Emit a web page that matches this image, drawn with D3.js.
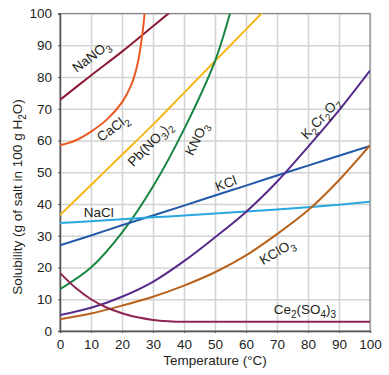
<!DOCTYPE html>
<html>
<head>
<meta charset="utf-8">
<script src="https://cdn.jsdelivr.net/npm/d3@7"></script>
<style>
  body { margin: 0; background: #fff; }
  text { font-family: "Liberation Sans", Arial, sans-serif; fill: #231f20; }
</style>
</head>
<body>
<div id="chart"></div>
<script>
// temperatures shared by most curves
const temps = [0, 10, 20, 30, 40, 50, 60, 70, 80, 90, 100];
const xTicks = [0, 10, 20, 30, 40, 50, 60, 70, 80, 90, 100];
const yTicks = [0, 10, 20, 30, 40, 50, 60, 70, 80, 90, 100];

// steep curves run off the top, so they get their own temps
const nano3Temps = [0, 10, 20, 30, 40];
const nano3 = [72.8, 80.5, 88, 96, 104];
const cacl2Temps = [0, 5, 10, 15, 20, 23, 25, 26.5, 27.3, 28];
const cacl2 = [58.5, 60, 62.8, 66.5, 72, 77.5, 84, 93, 100, 107];
const pbTemps = [0, 10, 20, 30, 40, 50, 60, 70];
const pbno32 = [36.5, 46, 55.5, 65, 75, 85, 95, 105];
const kno3Temps = [0, 10, 20, 30, 40, 50, 55, 57];
const kno3 = [13.2, 20, 31, 45.5, 63.5, 85, 100.5, 107];
const kcl = [27, 30.1, 33.3, 36.4, 39.5, 42.7, 45.8, 49, 52.1, 55.2, 58.3];
const nacl = [34, 34.6, 35.2, 35.8, 36.4, 37, 37.6, 38.3, 39, 39.8, 40.7];
const k2cr2o7 = [5, 7.3, 10.8, 15.5, 22, 29.5, 37.5, 47, 58, 69.5, 82];
const kclo3 = [3.7, 5.5, 8, 10.8, 14.3, 18.5, 23.8, 30.5, 38, 47.5, 58.5];
const ceTemps = [0, 5, 10, 15, 20, 25, 30, 35, 40, 50, 60, 70, 80, 90, 100];
const ce2so43 = [18.3, 13.6, 10, 7.4, 5.6, 4.3, 3.5, 3.1, 2.9, 2.9, 2.9, 2.9, 2.9, 2.9, 2.9];

const width = 389, height = 375;
const margin = {left: 60, right: 19, top: 13.5, bottom: 44};
const pw = width - margin.left - margin.right;
const ph = height - margin.top - margin.bottom;

const svg = d3.select("#chart").append("svg")
    .attr("width", width)
    .attr("height", height);

const g = svg.append("g")
    .attr("transform", `translate(${margin.left},${margin.top})`);

const x = d3.scaleLinear().domain([0, 100]).range([0, pw]);
const y = d3.scaleLinear().domain([0, 100]).range([ph, 0]);

// grid
g.append("g")
    .attr("transform", `translate(0,${ph})`)
    .call(d3.axisBottom(x).tickValues(xTicks).tickSize(-ph).tickFormat(""))
    .call(a => a.select(".domain").remove())
    .selectAll("line")
    .attr("stroke", "#d3d3d3")
    .attr("stroke-width", 1.6);

g.append("g")
    .call(d3.axisLeft(y).tickValues(yTicks).tickSize(-pw).tickFormat(""))
    .call(a => a.select(".domain").remove())
    .selectAll("line")
    .attr("stroke", "#d3d3d3")
    .attr("stroke-width", 1.6);

// frame
g.append("rect")
    .attr("width", pw)
    .attr("height", ph)
    .attr("fill", "none")
    .attr("stroke", "#8a8a8a")
    .attr("stroke-width", 1.2);

// axes
const xAxis = g.append("g")
    .attr("transform", `translate(0,${ph})`)
    .call(d3.axisBottom(x).tickValues(xTicks).tickSize(2).tickPadding(6));
const yAxis = g.append("g")
    .call(d3.axisLeft(y).tickValues(yTicks).tickSize(2).tickPadding(6));
[xAxis, yAxis].forEach(a => {
  a.select(".domain").attr("stroke", "#555").attr("stroke-width", 1.4);
  a.selectAll("line").attr("stroke", "#555");
  a.selectAll("text").style("font-size", "13.5px").attr("fill", "#231f20");
});

// curves
g.append("clipPath").attr("id", "clip")
    .append("rect").attr("width", pw).attr("height", ph);

const series = [
  {t: nano3Temps, v: nano3, c: "#8b1c35"},
  {t: cacl2Temps, v: cacl2, c: "#ec5a24"},
  {t: pbTemps, v: pbno32, c: "#f5b718"},
  {t: kno3Temps, v: kno3, c: "#198543"},
  {t: temps, v: kcl, c: "#2359a8"},
  {t: temps, v: nacl, c: "#27a8e1"},
  {t: temps, v: k2cr2o7, c: "#562c8b"},
  {t: temps, v: kclo3, c: "#b8621c"},
  {t: ceTemps, v: ce2so43, c: "#8e2553"}
];

const line = d3.line()
    .x(d => x(d[0]))
    .y(d => y(d[1]))
    .curve(d3.curveCatmullRom.alpha(0.5));

g.append("g").attr("clip-path", "url(#clip)")
  .selectAll("path")
  .data(series)
  .join("path")
    .attr("d", s => line(s.t.map((t, i) => [t, s.v[i]])))
    .attr("fill", "none")
    .attr("stroke", s => s.c)
    .attr("stroke-width", 2);

// curve labels: parts are [text, isSubscript]
const labels = [
  {parts: [["NaNO", 0], ["3", 1]], t: 10, v: 86.5, a: -37},
  {parts: [["CaCl", 0], ["2", 1]], t: 17, v: 64, a: -37},
  {parts: [["Pb(NO", 0], ["3", 1], [")", 0], ["2", 1]], t: 29, v: 59, a: -45},
  {parts: [["KNO", 0], ["3", 1]], t: 44, v: 60.5, a: -63},
  {parts: [["KCl", 0]], t: 53.5, v: 46.5, a: -20},
  {parts: [["NaCl", 0]], t: 12.5, v: 37.5, a: 0},
  {parts: [["K", 0], ["2", 1], ["Cr", 0], ["2", 1], ["O", 0], ["7", 1]], t: 84, v: 67, a: -47},
  {parts: [["KClO", 0], ["3", 1]], t: 70, v: 25, a: -30},
  {parts: [["Ce", 0], ["2", 1], ["(SO", 0], ["4", 1], [")", 0], ["3", 1]], t: 79, v: 7, a: 0}
];

labels.forEach(l => {
  const txt = g.append("text")
      .attr("transform", `translate(${x(l.t)},${y(l.v)}) rotate(${l.a})`)
      .attr("text-anchor", "middle")
      .attr("dy", "0.35em")
      .style("font-size", "13.5px");
  let sub = false;
  l.parts.forEach(p => {
    const ts = txt.append("tspan").text(p[0]);
    if (p[1] && !sub) { ts.attr("dy", 4).style("font-size", "10px"); sub = true; }
    else if (!p[1] && sub) { ts.attr("dy", -4); sub = false; }
  });
});

// axis titles
svg.append("text")
    .attr("x", margin.left + pw / 2)
    .attr("y", 365)
    .attr("text-anchor", "middle")
    .style("font-size", "13.5px")
    .text("Temperature (°C)");

const yt = svg.append("text")
    .attr("transform", "translate(22,197) rotate(-90)")
    .attr("text-anchor", "middle")
    .style("font-size", "13.5px");
yt.append("tspan").text("Solubility (g of salt in 100 g H");
yt.append("tspan").text("2").attr("dy", 4).style("font-size", "10px");
yt.append("tspan").text("O)").attr("dy", -4);
</script>
</body>
</html>
